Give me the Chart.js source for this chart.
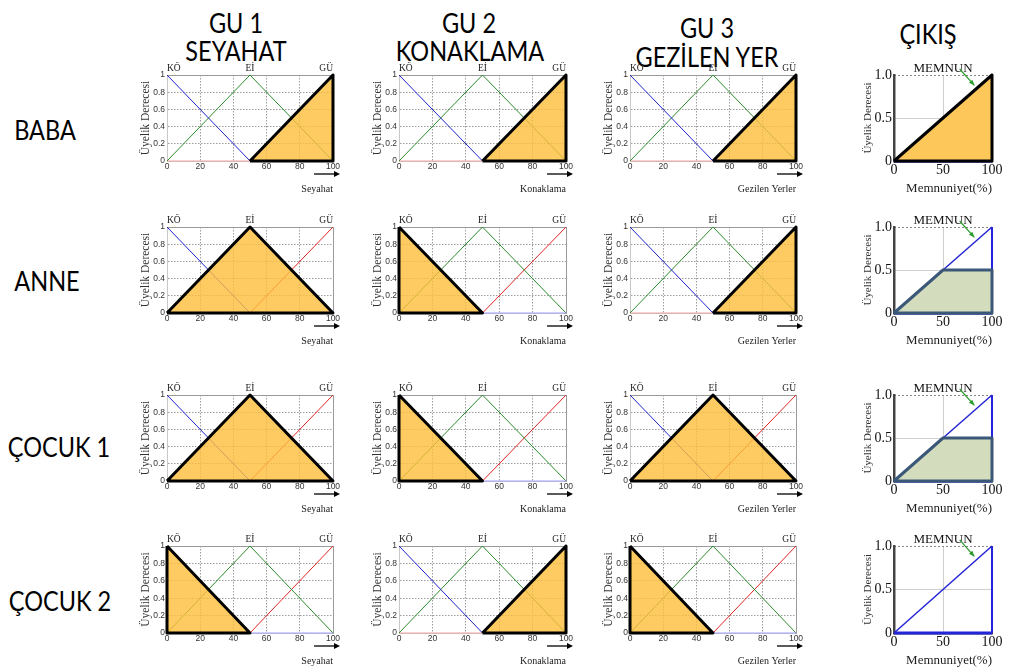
<!DOCTYPE html>
<html>
<head>
<meta charset="utf-8">
<script src="https://cdn.jsdelivr.net/npm/chart.js@4"></script>
<style>
  body { margin: 0; width: 1024px; height: 672px; background: #fff; position: relative; overflow: hidden; }
  .box { position: absolute; }
  .lbl { position: absolute; white-space: nowrap; font-family: Lato, "Open Sans", sans-serif; font-size: 27px; line-height: 1; color: #000;
         transform: translate(-50%, -50%) scaleX(0.87); }
</style>
</head>
<body>
<script>
// membership functions of the three inputs (breakpoints on 0..100)
const xBreaks = [0, 50, 100];
const setLabels = ['KÖ', 'Eİ', 'GÜ'];
const koValues = [1, 0, 0];
const eiValues = [0, 1, 0];
const guValues = [0, 0, 1];

const inXTicks = [0, 20, 40, 60, 80, 100];
const inYTicks = [0, 0.2, 0.4, 0.6, 0.8, 1];
const inYLabels = ['0', '0.2', '0.4', '0.6', '0.8', '1'];
const inputTitles = ['Seyahat', 'Konaklama', 'Gezilen Yerler'];

// output set
const outBreaks = [0, 100];
const memnunValues = [0, 1];
const outXTicks = [0, 50, 100];
const outYTicks = [0, 0.5, 1];
const outYLabels = ['0', '0.5', '1.0'];
const outLabel = 'MEMNUN';
const memnunArrow = [[67, 1.07], [82, 0.88]];

// which set fires for each person / input, and the output activation
const rowNames = ['BABA', 'ANNE', 'ÇOCUK 1', 'ÇOCUK 2'];
const firedSets = [
  ['GÜ', 'GÜ', 'GÜ'],
  ['Eİ', 'KÖ', 'GÜ'],
  ['Eİ', 'KÖ', 'Eİ'],
  ['KÖ', 'GÜ', 'KÖ']
];
const outLevels = [1, 0.5, 0.5, 0];

const headers = [['GU 1', 'SEYAHAT'], ['GU 2', 'KONAKLAMA'], ['GU 3', 'GEZİLEN YER'], ['ÇIKIŞ']];

// layout (plot areas in page pixels)
const colX = [167, 399, 630, 894];
const colW = [166, 167, 166, 98];
const rowY = [75, 227, 395, 546];
const rowH = [86, 86, 86, 87];
const headerPos = [[[236, 22], [236, 50]], [[469, 22], [470, 50]], [[707, 27], [707, 56]], [[928, 33]]];
const rowPos = [[45, 129], [47, 280], [59, 446], [60, 600]];

const setColors = ['#2020d0', '#2a8a2a', '#e02424'];
const setFaint = ['#a0a0ff', '#a6d0a6', '#f2a0a0'];
const serif = '"Liberation Serif", "DejaVu Serif", serif';
const sans = '"Liberation Sans", Arial, sans-serif';

function addLabel(text, x, y) {
  const d = document.createElement('div');
  d.className = 'lbl';
  d.textContent = text;
  d.style.left = x + 'px';
  d.style.top = y + 'px';
  document.body.appendChild(d);
}
headers.forEach((h, c) => h.forEach((t, k) => addLabel(t, headerPos[c][k][0], headerPos[c][k][1])));
rowNames.forEach((t, r) => addLabel(t, rowPos[r][0], rowPos[r][1]));

function makeCanvas(left, top, w, h) {
  const d = document.createElement('div');
  d.className = 'box';
  d.style.left = left + 'px';
  d.style.top = top + 'px';
  const c = document.createElement('canvas');
  c.width = w;
  c.height = h;
  d.appendChild(c);
  document.body.appendChild(d);
  return c;
}

function pts(xs, values) {
  return xs.map((x, i) => ({x: x, y: values[i]}));
}
// part of a set where it is above zero, with the zero ends around it
function supportPts(xs, values) {
  const p = pts(xs, values);
  const first = Math.max(0, values.findIndex(v => v > 0) - 1);
  const lastNz = values.length - 1 - values.slice().reverse().findIndex(v => v > 0);
  const last = Math.min(values.length - 1, lastNz + 1);
  return p.slice(first, last + 1);
}
// closed outline: along the set, down to the baseline and back
function outline(p) {
  const out = p.slice();
  const a = p[0], b = p[p.length - 1];
  if (b.y !== 0) out.push({x: b.x, y: 0});
  out.push({x: a.x, y: 0});
  if (a.y !== 0) out.push({x: a.x, y: a.y});
  return out;
}
function fixedTicks(list) {
  return s => { s.ticks = list.map(v => ({value: v})); };
}
function noPad(s) {
  s.paddingLeft = 0; s.paddingRight = 0; s.paddingTop = 0; s.paddingBottom = 0;
}

const xArrow = {
  id: 'xArrow',
  afterDraw(chart, args, opts) {
    if (!opts.show) return;
    const s = chart.scales.x;
    const ctx = chart.ctx;
    const y = s.top + opts.dy;
    const x2 = s.right + opts.over, x1 = x2 - opts.len;
    ctx.save();
    ctx.strokeStyle = '#000';
    ctx.fillStyle = '#000';
    ctx.lineWidth = 1.3;
    ctx.beginPath(); ctx.moveTo(x1, y); ctx.lineTo(x2 - 4, y); ctx.stroke();
    ctx.beginPath(); ctx.moveTo(x2, y); ctx.lineTo(x2 - 6, y - 3); ctx.lineTo(x2 - 6, y + 3); ctx.closePath(); ctx.fill();
    ctx.restore();
  }
};

const callout = {
  id: 'callout',
  afterDraw(chart, args, opts) {
    if (!opts.from) return;
    const {x, y} = chart.scales;
    const ctx = chart.ctx;
    const x1 = x.getPixelForValue(opts.from[0]), y1 = y.getPixelForValue(opts.from[1]);
    const x2 = x.getPixelForValue(opts.to[0]), y2 = y.getPixelForValue(opts.to[1]);
    const a = Math.atan2(y2 - y1, x2 - x1);
    ctx.save();
    ctx.strokeStyle = '#2a9a2a';
    ctx.fillStyle = '#2a9a2a';
    ctx.lineWidth = 1.2;
    ctx.beginPath(); ctx.moveTo(x1, y1); ctx.lineTo(x2, y2); ctx.stroke();
    ctx.beginPath();
    ctx.moveTo(x2, y2);
    ctx.lineTo(x2 - 6 * Math.cos(a - 0.4), y2 - 6 * Math.sin(a - 0.4));
    ctx.lineTo(x2 - 6 * Math.cos(a + 0.4), y2 - 6 * Math.sin(a + 0.4));
    ctx.closePath(); ctx.fill();
    ctx.restore();
  }
};

const setValues = [koValues, eiValues, guValues];

function inputChart(r, c) {
  const left = colX[c], top = rowY[r], w = colW[c], h = rowH[r];
  const canvas = makeCanvas(left - 28, top - 13, 28 + w + 14, 13 + h + 36);
  const fired = setValues[setLabels.indexOf(firedSets[r][c])];
  const sup = supportPts(xBreaks, fired);
  const datasets = [
    {data: outline(sup), borderColor: '#000', borderWidth: 3, fill: false, clip: false, borderJoinStyle: 'round'},
    {data: sup, borderWidth: 0, backgroundColor: 'rgba(252, 190, 58, 0.8)', fill: 'origin'}
  ];
  setValues.forEach((v, i) => {
    datasets.push({
      data: pts(xBreaks, v),
      borderColor: setColors[i],
      borderWidth: 1,
      fill: false,
      clip: 2,
      segment: {
        borderColor: ctx => (ctx.p0.parsed.y === 0 && ctx.p1.parsed.y === 0) ? setFaint[i] : undefined
      }
    });
  });
  new Chart(canvas, {
    type: 'line',
    data: {datasets: datasets},
    plugins: [xArrow],
    options: {
      responsive: false,
      animation: false,
      layout: {padding: {left: 0, right: 14, top: 0, bottom: 0}},
      elements: {point: {radius: 0}, line: {tension: 0}},
      plugins: {
        legend: {display: false},
        tooltip: {enabled: false},
        xArrow: {show: true, dy: 13, over: 7, len: 26}
      },
      scales: {
        x: {
          type: 'linear', min: 0, max: 100,
          afterBuildTicks: fixedTicks(inXTicks),
          afterFit: s => { s.height = 36; noPad(s); },
          ticks: {font: {family: sans, size: 8.5}, color: '#333', padding: 1, maxRotation: 0},
          grid: {color: '#9c9c9c', drawTicks: false},
          border: {color: '#c8c8c8', dash: [1.5, 1.5]},
          title: {display: true, text: inputTitles[c], align: 'end', color: '#222',
                  font: {family: serif, size: 10}, padding: {top: 0, bottom: 2}}
        },
        xTop: {
          type: 'linear', position: 'top', min: 0, max: 100,
          afterBuildTicks: fixedTicks(xBreaks),
          afterFit: s => { s.height = 13; noPad(s); },
          ticks: {callback: (v, i) => setLabels[i], align: 'inner', font: {family: serif, size: 9.5}, color: '#222', padding: 1, maxRotation: 0},
          grid: {display: false, drawTicks: false},
          border: {color: '#9a9a9a'}
        },
        y: {
          min: 0, max: 1,
          afterBuildTicks: fixedTicks(inYTicks),
          afterFit: s => { s.width = 28; noPad(s); },
          ticks: {callback: (v, i) => inYLabels[i], font: {family: sans, size: 8.5}, color: '#333', padding: 2},
          grid: {color: '#9c9c9c', drawTicks: false},
          border: {color: '#c8c8c8', dash: [1.5, 1.5]},
          title: {display: true, text: 'Üyelik Derecesi', color: '#333', font: {family: serif, size: 11.5}, padding: {top: 0, bottom: 0}}
        },
        y2: {
          position: 'right', min: 0, max: 1,
          afterFit: s => { s.width = 0; noPad(s); },
          ticks: {display: false},
          grid: {display: false, drawTicks: false},
          border: {color: '#9a9a9a'}
        }
      }
    }
  });
}

function outputChart(r) {
  const left = colX[3], top = rowY[r], w = colW[3], h = rowH[r];
  const canvas = makeCanvas(left - 38, top - 16, 38 + w + 16, 16 + h + 38);
  const level = outLevels[r];
  const memnun = pts(outBreaks, memnunValues);
  const datasets = [];
  if (level > 0) {
    // clip the output set at the activation level
    const xl = outBreaks[0] + (level - memnunValues[0]) / (memnunValues[1] - memnunValues[0]) * (outBreaks[1] - outBreaks[0]);
    const cut = [{x: outBreaks[0], y: memnunValues[0]}, {x: xl, y: level}, {x: outBreaks[1], y: level}];
    const full = level >= 1;
    datasets.push({data: outline(cut), borderColor: full ? '#000' : '#3c5878', borderWidth: 3, fill: false, clip: false, borderJoinStyle: 'round'});
    datasets.push({data: cut, borderWidth: 0, backgroundColor: full ? '#fdc75a' : '#d3dcbd', fill: 'origin'});
  }
  datasets.push({
    data: outline(memnun),
    borderColor: '#2424d8',
    borderWidth: 3,
    fill: false,
    clip: false,
    segment: {
      borderWidth: ctx => (ctx.p0.parsed.x !== ctx.p1.parsed.x && ctx.p0.parsed.y !== ctx.p1.parsed.y) ? 1.5 : (ctx.p0.parsed.x === ctx.p1.parsed.x ? 2 : 3)
    }
  });
  new Chart(canvas, {
    type: 'line',
    data: {datasets: datasets},
    plugins: [callout],
    options: {
      responsive: false,
      animation: false,
      layout: {padding: {left: 0, right: 16, top: 0, bottom: 0}},
      elements: {point: {radius: 0}, line: {tension: 0}},
      plugins: {
        legend: {display: false},
        tooltip: {enabled: false},
        callout: {from: memnunArrow[0], to: memnunArrow[1]}
      },
      scales: {
        x: {
          type: 'linear', min: 0, max: 100,
          afterBuildTicks: fixedTicks(outXTicks),
          afterFit: s => { s.height = 38; noPad(s); },
          ticks: {font: {family: serif, size: 14}, color: '#111', padding: 1, maxRotation: 0},
          grid: {color: ctx => ctx.tick && ctx.tick.value === 50 ? '#cfcfcf' : 'transparent', drawTicks: false},
          border: {color: '#444', width: 2.5},
          title: {display: true, text: 'Memnuniyet(%)', align: 'end', color: '#222',
                  font: {family: serif, size: 13}, padding: {top: 0, bottom: 3}}
        },
        xTop: {
          type: 'linear', position: 'top', min: 0, max: 100,
          afterBuildTicks: fixedTicks([50]),
          afterFit: s => { s.height = 16; noPad(s); },
          ticks: {callback: () => outLabel, font: {family: serif, size: 13}, color: '#111', padding: -1, maxRotation: 0},
          grid: {display: false, drawTicks: false},
          border: {display: false}
        },
        y: {
          min: 0, max: 1,
          afterBuildTicks: fixedTicks(outYTicks),
          afterFit: s => { s.width = 38; noPad(s); },
          ticks: {callback: (v, i) => outYLabels[i], font: {family: serif, size: 14}, color: '#111', padding: 2},
          grid: {color: ctx => ctx.tick && ctx.tick.value === 0.5 ? '#cfcfcf' : 'transparent', drawTicks: false},
          border: {color: '#444', width: 2.5},
          title: {display: true, text: 'Üyelik Derecesi', color: '#333', font: {family: serif, size: 11}, padding: {top: 6, bottom: 0}}
        },
        y2: {
          position: 'right', min: 0, max: 1,
          afterBuildTicks: fixedTicks([1]),
          afterFit: s => { s.width = 0; noPad(s); },
          ticks: {display: false},
          grid: {color: '#888', drawTicks: false},
          border: {display: false, dash: [2, 2]}
        }
      }
    }
  });
}

for (let r = 0; r < rowNames.length; r++) {
  for (let c = 0; c < 3; c++) inputChart(r, c);
  outputChart(r);
}
</script>
</body>
</html>
